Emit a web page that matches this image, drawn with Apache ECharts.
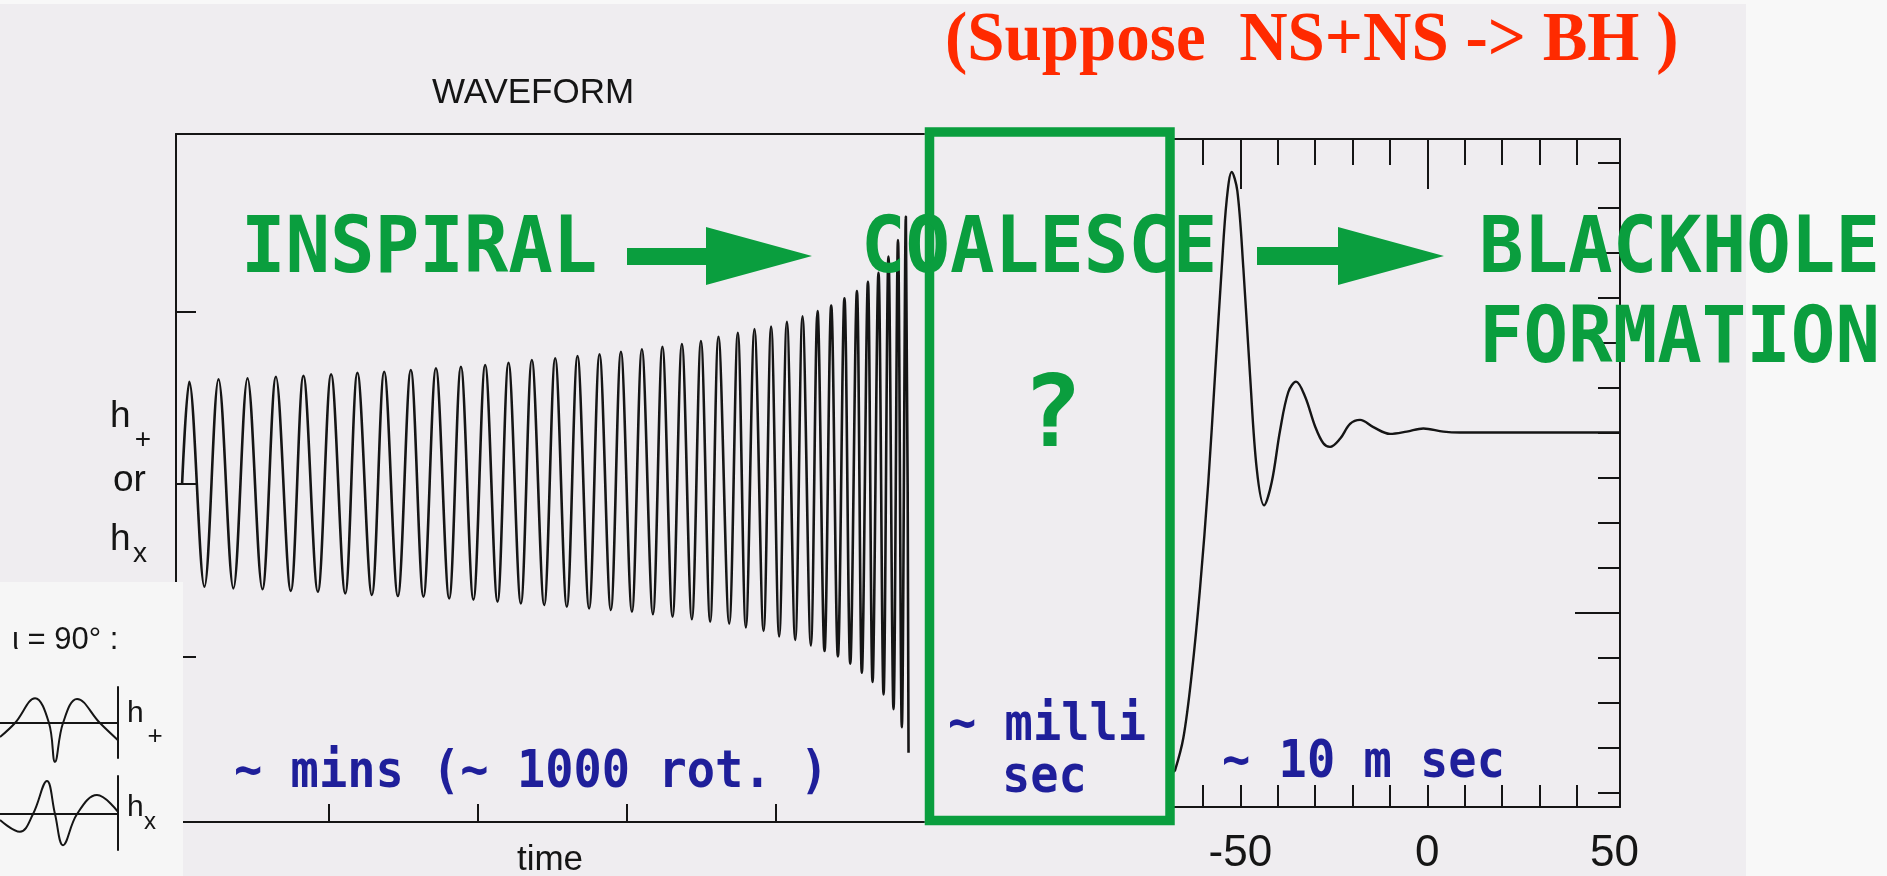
<!DOCTYPE html>
<html><head><meta charset="utf-8">
<script src="https://cdn.jsdelivr.net/npm/echarts@6/dist/echarts.min.js"></script>
<style>html,body{margin:0;padding:0;background:#f8f8f8;}#c{width:1887px;height:876px;}</style>
</head><body><div id="c"></div>
<script>
// ---------- data ----------
// Inspiral waveform (left panel): zero start, then alternating peaks / troughs
const inspiralTime = [0.011,0.059,0.161,0.256,0.356,0.451,0.551,0.642,0.742,0.827,0.924,1.013,1.108,1.190,1.287,1.370,1.462,1.549,1.634,1.718,1.807,1.886,1.970,2.049,2.132,2.206,2.289,2.363,2.446,2.520,2.598,2.670,2.748,2.818,2.894,2.962,3.036,3.103,3.177,3.241,3.309,3.372,3.439,3.500,3.562,3.618,3.690,3.748,3.802,3.860,3.921,3.972,4.026,4.078,4.134,4.183,4.239,4.284,4.331,4.376,4.421,4.465,4.504,4.549,4.582,4.623,4.654,4.694,4.728,4.761,4.795,4.825,4.851,4.878,4.896];
const inspiralStrain = [0,0.593,-0.595,0.607,-0.605,0.613,-0.610,0.622,-0.619,0.628,-0.624,0.636,-0.634,0.645,-0.643,0.651,-0.649,0.661,-0.653,0.671,-0.663,0.680,-0.670,0.690,-0.682,0.703,-0.692,0.719,-0.701,0.729,-0.711,0.742,-0.721,0.752,-0.730,0.767,-0.740,0.781,-0.754,0.796,-0.769,0.812,-0.784,0.829,-0.798,0.853,-0.809,0.877,-0.831,0.898,-0.852,0.913,-0.883,0.940,-0.904,0.972,-0.936,1.003,-0.968,1.035,-0.999,1.077,-1.041,1.119,-1.094,1.172,-1.147,1.225,-1.220,1.319,-1.305,1.414,-1.410,1.551,-1.558];
// Ringdown (right panel), time in ms
const ringdownTime = [-68.0,-67.46,-65.24,-63.0,-60.78,-58.56,-56.76,-54.97,-53.64,-52.30,-50.80,-49.20,-47.41,-45.61,-43.66,-41.60,-39.39,-37.17,-35.11,-32.70,-30.03,-27.81,-26.02,-23.34,-20.67,-18.0,-14.44,-9.97,-5.51,-1.07,4.28,8.74,27.46,51.5];
const ringdownStrain = [-7.544,-7.51,-6.79,-5.37,-3.47,-1.10,1.28,3.66,5.17,5.79,5.37,3.66,1.28,-0.81,-1.62,-1.10,0.04,0.90,1.13,0.80,0.14,-0.24,-0.32,-0.14,0.19,0.28,0.12,-0.03,0.02,0.09,0.02,0,0,0];
// Inset schematic waveforms (iota = 90 deg)
const insetPlusPhase = [0,1.27,2.97,4.15,4.66,5.34,6.53,8.47,10];
const insetPlusStrain = [-0.40,0,0.71,0,-1.11,0,0.69,0,-0.49];
const insetCrossPhase = [0,1.69,2.8,3.98,4.66,5.34,6.53,8.22,10];
const insetCrossStrain = [-0.17,-0.51,0,0.94,0,-0.89,0,0.54,0.06];
// Tick values
const timeTicks = [1,2,3,4];
const strainTicks = [-1,0,1];
const msTicks = [-60,-50,-40,-30,-20,-10,0,10,20,30,40];
const msMajorTicks = [-50,0];
const msLabels = [-50,0,50];
const ringTicks = [-8,-7,-6,-5,-3,-2,-1,0,1,2,3,4,5,6];
const ringMajorTicks = [-4];

// ---------- chart ----------
const ink = '#151515';
const green = '#0a9e3e';
const blue = '#1f1f9a';
const red = '#ff2a00';
const zip = (xs, ys) => xs.map((x, i) => [x, ys[i]]);
const chart = echarts.init(document.getElementById('c'));
const line = {color: ink, width: 2};
const noLabel = {show: false};
const noSplit = {show: false};

function txt(text, x, y, font, fill, align, scaleY) {
  return {type: 'text', x: x, y: y, scaleY: scaleY || 1, z: 30, silent: true,
    style: {text: text, x: 0, y: 0, font: font, fill: fill,
      align: align || 'left', verticalAlign: 'middle',
      textAlign: align || 'left', textVerticalAlign: 'middle'}};
}
const mono = s => 'bold ' + s + 'px "DejaVu Sans Mono"';
const sans = s => s + 'px "Liberation Sans"';

const option = {
  backgroundColor: '#f8f8f8',
  animation: false,
  grid: [
    {left: 176, top: 134, width: 748, height: 688, outerBoundsMode: 'none'},
    {left: 1173, top: 139, width: 447, height: 668, outerBoundsMode: 'none'},
    {left: 0, top: 687, width: 118, height: 71, outerBoundsMode: 'none'},
    {left: 0, top: 776, width: 118, height: 74, outerBoundsMode: 'none'}
  ],
  xAxis: [
    {type: 'value', gridIndex: 0, position: 'bottom', min: -0.03, max: 5.0,
      axisLine: {onZero: false, lineStyle: line},
      axisTick: {inside: true, length: 18, customValues: timeTicks, lineStyle: line},
      axisLabel: noLabel, splitLine: noSplit,
      name: 'time', nameLocation: 'middle', nameGap: 21,
      nameTextStyle: {fontFamily: 'Liberation Sans', fontSize: 35, color: ink}},
    {type: 'value', gridIndex: 0, position: 'top', min: -0.03, max: 5.0,
      axisLine: {onZero: false, lineStyle: line}, axisTick: {show: false},
      axisLabel: noLabel, splitLine: noSplit},
    {type: 'value', gridIndex: 1, position: 'bottom', min: -68, max: 51.5,
      axisLine: {onZero: false, lineStyle: line},
      axisTick: {inside: true, length: 22, customValues: msTicks, lineStyle: line},
      axisLabel: {customValues: msLabels, fontFamily: 'Liberation Sans', fontSize: 44, color: ink, margin: 25},
      splitLine: noSplit},
    {type: 'value', gridIndex: 1, position: 'top', min: -68, max: 51.5,
      axisLine: {onZero: false, lineStyle: line},
      axisTick: {inside: true, length: 26, customValues: msTicks, lineStyle: line},
      axisLabel: noLabel, splitLine: noSplit},
    {type: 'value', gridIndex: 1, position: 'top', min: -68, max: 51.5,
      axisLine: {show: false, onZero: false},
      axisTick: {show: true, inside: true, length: 50, customValues: msMajorTicks, lineStyle: line},
      axisLabel: noLabel, splitLine: noSplit},
    {type: 'value', gridIndex: 2, min: 0, max: 10, z: 20,
      axisLine: {onZero: true, lineStyle: line}, axisTick: {show: false},
      axisLabel: noLabel, splitLine: noSplit},
    {type: 'value', gridIndex: 3, min: 0, max: 10, z: 20,
      axisLine: {onZero: true, lineStyle: line}, axisTick: {show: false},
      axisLabel: noLabel, splitLine: noSplit}
  ],
  yAxis: [
    {type: 'value', gridIndex: 0, position: 'left', min: -1.959, max: 2.029,
      axisLine: {show: true, onZero: false, lineStyle: line},
      axisTick: {show: true, inside: true, length: 20, customValues: strainTicks, lineStyle: line},
      axisLabel: noLabel, splitLine: noSplit},
    {type: 'value', gridIndex: 1, position: 'right', min: -8.322, max: 6.522,
      axisLine: {show: true, onZero: false, lineStyle: line},
      axisTick: {show: true, inside: true, length: 22, customValues: ringTicks, lineStyle: line},
      axisLabel: noLabel, splitLine: noSplit},
    {type: 'value', gridIndex: 1, position: 'right', min: -8.322, max: 6.522,
      axisLine: {show: false, onZero: false},
      axisTick: {show: true, inside: true, length: 45, customValues: ringMajorTicks, lineStyle: line},
      axisLabel: noLabel, splitLine: noSplit},
    {type: 'value', gridIndex: 2, position: 'right', min: -1.0, max: 1.03, z: 20,
      axisLine: {show: true, onZero: false, lineStyle: line}, axisTick: {show: false},
      axisLabel: noLabel, splitLine: noSplit},
    {type: 'value', gridIndex: 3, position: 'right', min: -1.029, max: 1.086, z: 20,
      axisLine: {show: true, onZero: false, lineStyle: line}, axisTick: {show: false},
      axisLabel: noLabel, splitLine: noSplit}
  ],
  series: [
    {name: 'inspiral', type: 'line', xAxisIndex: 0, yAxisIndex: 0, data: zip(inspiralTime, inspiralStrain),
      symbol: 'none', smooth: 0.35, silent: true, lineStyle: {color: ink, width: 2.6}},
    {name: 'ringdown', type: 'line', xAxisIndex: 2, yAxisIndex: 1, data: zip(ringdownTime, ringdownStrain),
      symbol: 'none', smooth: 0.35, silent: true, lineStyle: {color: ink, width: 2.4}},
    {name: 'h+', type: 'line', xAxisIndex: 5, yAxisIndex: 3, data: zip(insetPlusPhase, insetPlusStrain),
      symbol: 'none', smooth: 0.4, clip: false, z: 20, silent: true, lineStyle: {color: ink, width: 2}},
    {name: 'hx', type: 'line', xAxisIndex: 6, yAxisIndex: 4, data: zip(insetCrossPhase, insetCrossStrain),
      symbol: 'none', smooth: 0.4, clip: false, z: 20, silent: true, lineStyle: {color: ink, width: 2}}
  ],
  graphic: {elements: [
    {type: 'rect', z: -10, silent: true, shape: {x: 0, y: 4, width: 1746, height: 872}, style: {fill: '#efedf0'}},
    {type: 'rect', z: 10, silent: true, shape: {x: 0, y: 582, width: 183, height: 294}, style: {fill: '#f6f6f6'}},
    {type: 'rect', z: 15, silent: true, shape: {x: 929.5, y: 132, width: 240.5, height: 688.5},
      style: {fill: 'none', stroke: green, lineWidth: 9.5}},
    {type: 'polygon', z: 15, silent: true, shape: {points: [[627,248],[706,248],[706,227],[812,256],[706,285],[706,265],[627,265]]}, style: {fill: green}},
    {type: 'polygon', z: 15, silent: true, shape: {points: [[1257,247],[1338,247],[1338,227],[1444,256],[1338,285],[1338,265],[1257,265]]}, style: {fill: green}},
    txt('WAVEFORM', 533, 93, sans(35), ink, 'center'),
    txt('(Suppose  NS+NS -> BH )', 945, 42, 'bold 67px "Liberation Serif"', red, 'left', 1.05),
    txt('INSPIRAL', 241, 251, mono(74), green, 'left', 1.07),
    txt('COALESCE', 861, 251, mono(74), green, 'left', 1.07),
    txt('BLACKHOLE', 1479, 251.5, mono(74), green, 'left', 1.07),
    txt('FORMATION', 1479, 341, mono(74), green, 'left', 1.07),
    txt('?', 1052, 420, mono(100), green, 'center'),
    txt('~ mins (~ 1000 rot. )', 234, 773.5, mono(47), blue, 'left', 1.08),
    txt('~ milli', 948, 727, mono(47), blue, 'left', 1.08),
    txt('sec', 1002, 779, mono(47), blue, 'left', 1.08),
    txt('~ 10 m sec', 1222, 763.5, mono(47), blue, 'left', 1.08),
    txt('h', 110, 417, sans(37), ink),
    txt('+', 143, 440, sans(28), ink, 'center'),
    txt('or', 113, 481, sans(37), ink),
    txt('h', 110, 540, sans(37), ink),
    txt('x', 140, 554, sans(28), ink, 'center'),
    txt('ι = 90° :', 12, 640, sans(31), ink),
    txt('h', 127, 714, sans(30), ink),
    txt('+', 155, 737, sans(26), ink, 'center'),
    txt('h', 127, 807.5, sans(30), ink),
    txt('x', 150, 822, sans(24), ink, 'center')
  ]}
};
chart.setOption(option);
</script></body></html>
